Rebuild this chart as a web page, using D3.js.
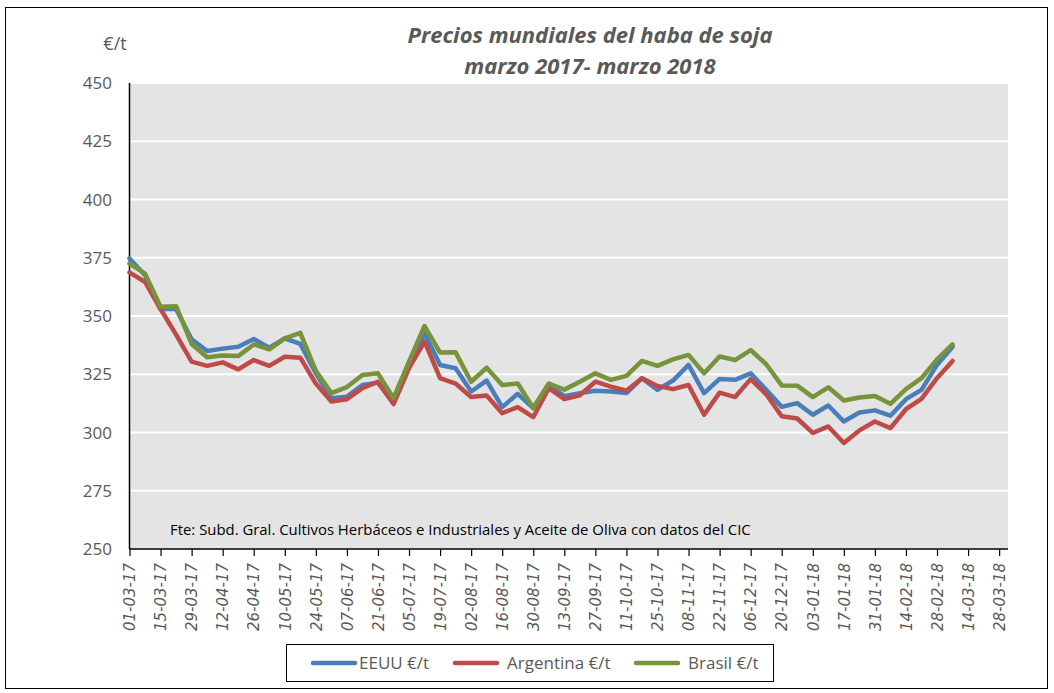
<!DOCTYPE html>
<html>
<head>
<meta charset="utf-8">
<script src="https://cdn.jsdelivr.net/npm/d3@7"></script>
<style>
    body { margin: 0; background: #fff; }
    svg { display: block; }
    text { font-family: "Open Sans", "Noto Sans", sans-serif; fill: #595959; }
</style>
</head>
<body>
<svg id="chart" width="1054" height="693"></svg>
<script>
// weekly prices, first week 01-03-2017
var startDate = new Date(2017, 2, 1);
var seriesNames = ['EEUU €/t', 'Argentina €/t', 'Brasil €/t'];
var seriesColors = ['#4a7ebb', '#be4b48', '#77933c'];

var eeuu = [374.7, 367.5, 353, 353, 340, 335, 336, 336.8, 340.1, 336.4, 340.4, 338,
    325.4, 314.7, 315.4, 320.4, 321.4, 312.6, 328.3, 342.6, 329, 327.6, 317.6, 322.3,
    310.9, 316.6, 310.5, 320.4, 315.6, 316.9, 317.9, 317.6, 316.9, 323.3, 318.3, 322.3,
    329, 316.9, 323, 322.6, 325.4, 318.3, 311, 312.6, 307.6, 311.6, 304.7, 308.6,
    309.5, 307.2, 314.3, 318.3, 329, 336.8];
var argentina = [368.7, 364.6, 353, 342, 330.4, 328.6, 330.1, 327.1, 331.1, 328.6, 332.5, 332.1,
    321, 313.3, 314.3, 319, 321.8, 312.2, 327.6, 339, 323.3, 321, 315.2, 315.9,
    308.3, 310.9, 306.6, 319, 314.3, 316, 321.8, 319.7, 317.9, 323.3, 320, 318.6,
    320.4, 307.6, 317.1, 315.2, 322.9, 316.4, 307, 306, 299.8, 302.6, 295.5, 300.9,
    304.7, 301.9, 310, 314.4, 323.3, 330.7];
var brasil = [372.5, 368.2, 354, 354.2, 338, 332.3, 333, 332.8, 337.8, 335.7, 340.4, 342.8,
    326.5, 316.9, 319.5, 324.7, 325.4, 314.7, 330.4, 345.7, 334.3, 334.4, 321.8, 327.8,
    320.4, 321, 310.5, 321, 318.4, 321.8, 325.4, 322.6, 324.3, 330.7, 328.6, 331.4,
    333.3, 325.4, 332.6, 331.1, 335.4, 329.3, 320.2, 320.1, 315.2, 319.4, 313.7, 315,
    315.7, 312.3, 318.6, 323.3, 331.4, 337.8];

var yTicks = [250, 275, 300, 325, 350, 375, 400, 425, 450];

var svg = d3.select('#chart');
var plotL = 129.5, plotR = 1008, plotT = 83, plotB = 549;

// outer frame
svg.append('rect')
    .attr('x', 5.5).attr('y', 7.5)
    .attr('width', 1042).attr('height', 681)
    .attr('fill', 'none').attr('stroke', '#000').attr('stroke-width', 1);

var dayMs = 24 * 3600 * 1000;
var dateAt = function (i) {
    return new Date(startDate.getTime() + i * 7 * dayMs);
};
var x = d3.scaleTime()
    .domain([startDate, new Date(2018, 3, 1)])
    .range([plotL, plotR]);
var y = d3.scaleLinear().domain([250, 450]).range([plotB, plotT]);

svg.append('rect')
    .attr('x', plotL).attr('y', plotT)
    .attr('width', plotR - plotL).attr('height', plotB - plotT)
    .attr('fill', '#e4e4e4');

// grid lines
svg.selectAll('.grid')
    .data(yTicks.slice(1))
    .enter()
    .append('line')
    .attr('x1', plotL).attr('x2', plotR)
    .attr('y1', function (d) { return y(d); })
    .attr('y2', function (d) { return y(d); })
    .style('stroke', '#fff').style('stroke-width', 2);

// y labels
svg.selectAll('.ylab')
    .data(yTicks)
    .enter()
    .append('text')
    .attr('x', 112).attr('y', function (d) { return y(d) + 6; })
    .attr('text-anchor', 'end')
    .style('font-size', '17px')
    .text(function (d) { return d; });

svg.append('line')
    .attr('x1', plotL).attr('x2', plotL).attr('y1', plotT).attr('y2', plotB)
    .style('stroke', '#000').style('stroke-width', 1.5);

// x axis, every 14 days
var xTicks = d3.timeDay.every(1).range(startDate, new Date(2018, 3, 1))
    .filter(function (d, i) { return i % 14 === 0; });
var fmt = d3.timeFormat('%d-%m-%y');
var xAxis = svg.append('g')
    .attr('transform', 'translate(0,' + plotB + ')')
    .call(d3.axisBottom(x).tickValues(xTicks).tickSize(7).tickFormat(fmt));
xAxis.select('.domain').attr('d', 'M' + plotL + ',0H' + plotR).style('stroke-width', 1.5);
xAxis.selectAll('.tick line').style('stroke-width', 1.2);
xAxis.selectAll('.tick text')
    .attr('transform', 'rotate(-90)')
    .attr('x', -14).attr('y', 0).attr('dy', '0.35em')
    .attr('text-anchor', 'end')
    .style('font-family', '"DejaVu Sans", sans-serif')
    .style('font-style', 'italic')
    .style('font-size', '15px')
    .style('fill', '#595959');

// series
var line = d3.line()
    .x(function (d, i) { return x(dateAt(i)); })
    .y(function (d) { return y(d); });
[eeuu, argentina, brasil].forEach(function (vals, k) {
    svg.append('path')
        .datum(vals)
        .attr('d', line)
        .attr('fill', 'none')
        .style('stroke', seriesColors[k])
        .style('stroke-width', 4.5)
        .style('stroke-linejoin', 'round')
        .style('stroke-linecap', 'round');
});

// titles
svg.append('text').attr('x', 590).attr('y', 43).attr('text-anchor', 'middle')
    .style('font-size', '22px').style('font-weight', 'bold').style('font-style', 'italic')
    .text('Precios mundiales del haba de soja');
svg.append('text').attr('x', 590).attr('y', 74).attr('text-anchor', 'middle')
    .style('font-size', '22px').style('font-weight', 'bold').style('font-style', 'italic')
    .text('marzo 2017- marzo 2018');
svg.append('text').attr('x', 115).attr('y', 50).attr('text-anchor', 'middle')
    .style('font-size', '18px').text('€/t');

svg.append('text').attr('x', 170).attr('y', 535)
    .style('font-size', '14.9px').style('fill', '#000')
    .text('Fte: Subd. Gral. Cultivos Herbáceos e Industriales y Aceite de Oliva con datos del CIC');

// legend
svg.append('rect')
    .attr('x', 286.5).attr('y', 644.5).attr('width', 487).attr('height', 37)
    .attr('fill', '#fff').attr('stroke', '#000').attr('stroke-width', 1);
var legX = [313, 455, 636];
seriesNames.forEach(function (name, k) {
    svg.append('line')
        .attr('x1', legX[k]).attr('x2', legX[k] + 42)
        .attr('y1', 663).attr('y2', 663)
        .style('stroke', seriesColors[k]).style('stroke-width', 4.5)
        .style('stroke-linecap', 'round');
    svg.append('text')
        .attr('x', legX[k] + (k === 0 ? 46 : 52)).attr('y', 669)
        .style('font-size', '17px')
        .text(name);
});
</script>
</body>
</html>
